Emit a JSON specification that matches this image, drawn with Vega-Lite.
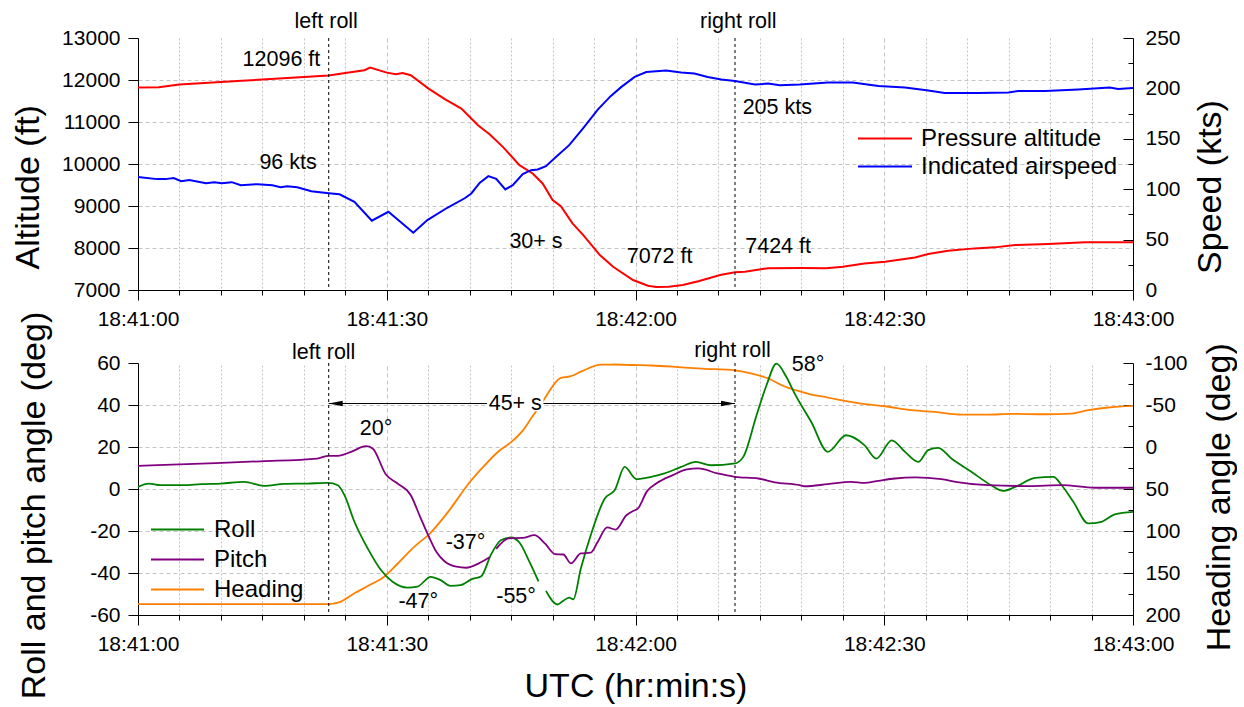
{
  "$schema": "https://vega.github.io/schema/vega-lite/v6.json",
  "background": "white",
  "padding": {"left": 11, "top": 11, "right": 0, "bottom": 0},
  "config": {
    "font": "Liberation Sans",
    "view": {"stroke": null},
    "axis": {
      "domainColor": "black", "domainWidth": 1, "tickColor": "black", "tickWidth": 1,
      "labelColor": "black", "labelFontSize": 21, "labelFlush": false, "labelOverlap": false, "labelBound": false,
      "titleColor": "black", "titleFontSize": 34, "titleFontWeight": "normal",
      "gridColor": "#c4c4c4", "gridWidth": 1
    },
    "legend": {"labelColor": "black", "labelFontSize": 24, "padding": 0}
  },
  "datasets": {
    "alt": [
      {"s":0,"v":11820},{"s":2.5,"v":11825},{"s":5,"v":11890},{"s":7.5,"v":11920},{"s":10,"v":11955},{"s":12.5,"v":11985},{"s":15,"v":12010},{"s":17.5,"v":12040},{"s":20,"v":12073},{"s":23,"v":12105},{"s":25,"v":12168},{"s":27.3,"v":12232},{"s":28,"v":12296},{"s":30,"v":12175},{"s":31.1,"v":12137},{"s":31.9,"v":12168},{"s":32.9,"v":12113},{"s":35,"v":11800},{"s":37,"v":11545},{"s":39,"v":11321},{"s":41,"v":10924},{"s":42.4,"v":10710},{"s":44,"v":10408},{"s":46,"v":9973},{"s":47.6,"v":9775},{"s":48.8,"v":9537},{"s":50,"v":9140},{"s":51,"v":8998},{"s":52.4,"v":8586},{"s":53.7,"v":8308},{"s":55.7,"v":7832},{"s":57.3,"v":7554},{"s":59.7,"v":7238},{"s":61.5,"v":7100},{"s":62.5,"v":7072},{"s":64,"v":7075},{"s":65.7,"v":7119},{"s":67.7,"v":7214},{"s":70.2,"v":7357},{"s":72,"v":7424},{"s":73.2,"v":7435},{"s":76,"v":7520},{"s":80,"v":7525},{"s":83,"v":7520},{"s":85,"v":7554},{"s":87.6,"v":7633},{"s":90.1,"v":7673},{"s":93.7,"v":7776},{"s":95.3,"v":7855},{"s":97.7,"v":7935},{"s":100.9,"v":7991},{"s":103.3,"v":8015},{"s":105.8,"v":8070},{"s":109.8,"v":8094},{"s":114.2,"v":8134},{"s":120,"v":8134}
    ],
    "ias": [
      {"s":0,"v":112},{"s":2.3,"v":110},{"s":3.3,"v":110},{"s":4.3,"v":111},{"s":5.2,"v":108},{"s":6.2,"v":109},{"s":8.2,"v":106},{"s":9.2,"v":107},{"s":10.1,"v":106},{"s":11.3,"v":107},{"s":12.4,"v":104},{"s":14.4,"v":105},{"s":16.2,"v":104},{"s":17.2,"v":102},{"s":18,"v":103},{"s":19.2,"v":102},{"s":20.9,"v":98},{"s":23,"v":96},{"s":24.3,"v":95},{"s":26.1,"v":87.5},{"s":28.2,"v":68.7},{"s":30.2,"v":77.6},{"s":33.2,"v":56.8},{"s":34.9,"v":69.4},{"s":37.3,"v":81.6},{"s":39.4,"v":91},{"s":40.2,"v":95.8},{"s":41.2,"v":106.3},{"s":42.25,"v":113},{"s":43.2,"v":110.3},{"s":44.3,"v":99.8},{"s":45.2,"v":104},{"s":46.4,"v":115},{"s":47.4,"v":118.9},{"s":48.2,"v":119.6},{"s":49.2,"v":122.9},{"s":50.4,"v":132},{"s":52,"v":143.7},{"s":53.65,"v":160.2},{"s":55.45,"v":179},{"s":57,"v":192.3},{"s":58.3,"v":201.5},{"s":59.9,"v":211.4},{"s":61.3,"v":216.3},{"s":63.7,"v":217.7},{"s":65.5,"v":215.7},{"s":67.1,"v":214.7},{"s":68.7,"v":211.4},{"s":70.35,"v":208.8},{"s":72,"v":207.4},{"s":74.4,"v":203.8},{"s":76,"v":204.8},{"s":77.4,"v":203.2},{"s":79.8,"v":203.8},{"s":83.2,"v":205.8},{"s":86.2,"v":205.8},{"s":89.3,"v":202.5},{"s":92.5,"v":200.9},{"s":95.1,"v":198.2},{"s":97.3,"v":195.5},{"s":101.3,"v":195.5},{"s":105,"v":195.9},{"s":106.2,"v":197.5},{"s":109.4,"v":197.5},{"s":113.4,"v":198.9},{"s":117.2,"v":200.9},{"s":118.2,"v":199.5},{"s":120,"v":200.5}
    ],
    "roll": [
      {"s":0,"v":1,"seg":1},{"s":1.3,"v":2.6,"seg":1},{"s":2.7,"v":1.8,"seg":1},{"s":5.5,"v":1.8,"seg":1},{"s":7.6,"v":2.3,"seg":1},{"s":10,"v":2.6,"seg":1},{"s":12.8,"v":3.4,"seg":1},{"s":15.2,"v":1.5,"seg":1},{"s":17.6,"v":2.4,"seg":1},{"s":20.4,"v":2.6,"seg":1},{"s":22.9,"v":2.9,"seg":1},{"s":24.1,"v":1.8,"seg":1},{"s":24.9,"v":-2.9,"seg":1},{"s":26.1,"v":-15.6,"seg":1},{"s":27.7,"v":-28.3,"seg":1},{"s":29.3,"v":-38.6,"seg":1},{"s":30.7,"v":-44.2,"seg":1},{"s":32.5,"v":-47,"seg":1},{"s":33.7,"v":-46.5,"seg":1},{"s":35.3,"v":-41.8,"seg":1},{"s":36.5,"v":-43.4,"seg":1},{"s":37.7,"v":-46.1,"seg":1},{"s":38.9,"v":-45.8,"seg":1},{"s":40.2,"v":-43,"seg":1},{"s":41.4,"v":-41.5,"seg":1},{"s":42.6,"v":-31,"seg":1},{"s":43.8,"v":-24.3,"seg":1},{"s":45,"v":-23.1,"seg":1},{"s":46,"v":-25.5,"seg":1},{"s":47.2,"v":-34.6,"seg":1},{"s":48.3,"v":-44,"seg":1},
      {"s":49.2,"v":-48.5,"seg":2},{"s":50.6,"v":-55,"seg":2},{"s":51.2,"v":-53.5,"seg":2},{"s":52,"v":-51.7,"seg":2},{"s":52.5,"v":-52.5,"seg":2},{"s":53.4,"v":-38,"seg":2},{"s":54.6,"v":-22,"seg":2},{"s":56.3,"v":-4.5,"seg":2},{"s":57.5,"v":-0.5,"seg":2},{"s":58.7,"v":10.5,"seg":2},{"s":60.1,"v":4.7,"seg":2},{"s":61.9,"v":5.8,"seg":2},{"s":63.5,"v":7.4,"seg":2},{"s":65.5,"v":10.5,"seg":2},{"s":67.3,"v":12.9,"seg":2},{"s":69.1,"v":11.3,"seg":2},{"s":72,"v":12.2,"seg":2},{"s":73,"v":15.3,"seg":2},{"s":74.6,"v":35.1,"seg":2},{"s":75.8,"v":49.4,"seg":2},{"s":77,"v":59.7,"seg":2},{"s":78.2,"v":53.3,"seg":2},{"s":79.2,"v":45.4,"seg":2},{"s":81.2,"v":31.9,"seg":2},{"s":83.2,"v":17.7,"seg":2},{"s":85.4,"v":25.6,"seg":2},{"s":87.6,"v":20.9,"seg":2},{"s":89.05,"v":14.5,"seg":2},{"s":90.9,"v":23.2,"seg":2},{"s":92.5,"v":17.7,"seg":2},{"s":94.1,"v":12.9,"seg":2},{"s":95.3,"v":18.5,"seg":2},{"s":96.5,"v":19.6,"seg":2},{"s":98.1,"v":14.5,"seg":2},{"s":100.5,"v":8.2,"seg":2},{"s":102.9,"v":1.8,"seg":2},{"s":104.35,"v":-0.9,"seg":2},{"s":105.8,"v":1,"seg":2},{"s":108.2,"v":5.3,"seg":2},{"s":110.4,"v":5.8,"seg":2},{"s":111.4,"v":1.8,"seg":2},{"s":112.8,"v":-6.1,"seg":2},{"s":114.6,"v":-16.4,"seg":2},{"s":116.2,"v":-15.6,"seg":2},{"s":117.8,"v":-12.1,"seg":2},{"s":120,"v":-10.9,"seg":2}
    ],
    "pitch": [
      {"s":0,"v":11,"seg":1},{"s":7.6,"v":12.1,"seg":1},{"s":14.8,"v":13.2,"seg":1},{"s":21.6,"v":14.5,"seg":1},{"s":23,"v":15.8,"seg":1},{"s":24.1,"v":15.8,"seg":1},{"s":25.7,"v":17.7,"seg":1},{"s":27.5,"v":20.4,"seg":1},{"s":28.3,"v":19.3,"seg":1},{"s":29.9,"v":6.9,"seg":1},{"s":31.3,"v":2.6,"seg":1},{"s":32.9,"v":-3,"seg":1},{"s":34,"v":-13,"seg":1},{"s":35,"v":-22,"seg":1},{"s":36,"v":-30,"seg":1},{"s":37,"v":-34.5,"seg":1},{"s":38.4,"v":-37,"seg":1},{"s":39.6,"v":-37.5,"seg":1},{"s":41.1,"v":-35.4,"seg":1},{"s":42.4,"v":-32.5,"seg":1},
      {"s":43.2,"v":-28.5,"seg":2},{"s":44.7,"v":-23.5,"seg":2},{"s":46.4,"v":-23.3,"seg":2},{"s":47.8,"v":-22,"seg":2},{"s":49.1,"v":-26,"seg":2},{"s":50.3,"v":-31,"seg":2},{"s":51.3,"v":-31.2,"seg":2},{"s":52.2,"v":-35.4,"seg":2},{"s":53.4,"v":-30.7,"seg":2},{"s":54.6,"v":-30.3,"seg":2},{"s":55.4,"v":-25.5,"seg":2},{"s":56.6,"v":-18.3,"seg":2},{"s":57.6,"v":-19.3,"seg":2},{"s":58.9,"v":-12.5,"seg":2},{"s":59.7,"v":-10.5,"seg":2},{"s":60.3,"v":-9.2,"seg":2},{"s":61.4,"v":-1,"seg":2},{"s":62.5,"v":2.6,"seg":2},{"s":64.5,"v":6.6,"seg":2},{"s":66.2,"v":9.3,"seg":2},{"s":67.6,"v":9.8,"seg":2},{"s":69.9,"v":7.4,"seg":2},{"s":72,"v":5.8,"seg":2},{"s":74.8,"v":5,"seg":2},{"s":76.8,"v":3.2,"seg":2},{"s":79.8,"v":1.8,"seg":2},{"s":80.4,"v":1.3,"seg":2},{"s":83.2,"v":2.3,"seg":2},{"s":86,"v":3.4,"seg":2},{"s":87.6,"v":2.9,"seg":2},{"s":89.3,"v":3.9,"seg":2},{"s":91.3,"v":5,"seg":2},{"s":93.7,"v":5.5,"seg":2},{"s":96.9,"v":4.7,"seg":2},{"s":98.6,"v":3.4,"seg":2},{"s":102.5,"v":1.8,"seg":2},{"s":107.4,"v":1.4,"seg":2},{"s":111.4,"v":1.8,"seg":2},{"s":115.4,"v":0.6,"seg":2},{"s":120,"v":0.6,"seg":2}
    ],
    "heading": [
      {"s":0,"v":187},{"s":23,"v":187},{"s":24.1,"v":185.4},{"s":26.1,"v":174.2},{"s":28.1,"v":163.5},{"s":29.7,"v":154.4},{"s":31.3,"v":139},{"s":33.4,"v":118},{"s":35.2,"v":103},{"s":37.4,"v":77.2},{"s":40,"v":42},{"s":41.6,"v":24},{"s":43.5,"v":5},{"s":45,"v":-5.8},{"s":46.4,"v":-19.5},{"s":47.6,"v":-36.8},{"s":48.8,"v":-54},{"s":51,"v":-82.4},{"s":52.1,"v":-84},{"s":53.5,"v":-90},{"s":55.8,"v":-98.1},{"s":57.5,"v":-98.2},{"s":59.6,"v":-97.6},{"s":61.9,"v":-97},{"s":65.1,"v":-95.2},{"s":68,"v":-93.3},{"s":72,"v":-91.3},{"s":74,"v":-87.4},{"s":75.9,"v":-82},{"s":78,"v":-72},{"s":79.5,"v":-67},{"s":81.2,"v":-62.4},{"s":83.2,"v":-58.9},{"s":85.2,"v":-55},{"s":87.2,"v":-51.7},{"s":90.1,"v":-48.5},{"s":93.3,"v":-43.8},{"s":96.1,"v":-41.7},{"s":99.3,"v":-38.6},{"s":102.5,"v":-38.6},{"s":105.3,"v":-39.4},{"s":109.4,"v":-39},{"s":112.6,"v":-39.8},{"s":114.6,"v":-43.8},{"s":117,"v":-47},{"s":120,"v":-48.9}
    ],
    "rolls": [{"s":23},{"s":72}],
    "topText": [
      {"s":22.7,"v":13380,"label":"left roll"},{"s":72.4,"v":13380,"label":"right roll"},
      {"s":17.3,"v":12486,"label":"12096 ft"},{"s":18.1,"v":10013,"label":"96 kts"},
      {"s":48,"v":8150,"label":"30+ s"},{"s":62.9,"v":7790,"label":"7072 ft"},
      {"s":77.1,"v":11345,"label":"205 kts"},{"s":77.2,"v":8030,"label":"7424 ft"}
    ],
    "botText": [
      {"s":22.4,"v":64.6,"label":"left roll"},{"s":71.7,"v":65.8,"label":"right roll"},
      {"s":28.7,"v":28.5,"label":"20°"},{"s":33.8,"v":-53.7,"label":"-47°"},
      {"s":39.5,"v":-25.9,"label":"-37°"},{"s":45.6,"v":-51.3,"label":"-55°"},
      {"s":80.8,"v":58.9,"label":"58°"},{"s":45.5,"v":40.7,"label":"45+ s"}
    ],
    "arrow": [{"s":23,"s2":72,"v":40.7}],
    "gapbox": [{"s":42.1,"s2":48.9,"v":37,"v2":44.5}],
    "arrowL": [{"s":23,"v":40.7}],
    "arrowR": [{"s":72,"v":40.7}]
  },
  "spacing": 73,
  "bounds": "flush",
  "resolve": {"scale": {"color": "independent", "x": "independent"}, "axis": {"x": "independent"}, "legend": {"color": "independent"}},
  "vconcat": [
    {
      "width": 995, "height": 252,
      "encoding": {
        "x": {"field": "s", "type": "quantitative", "scale": {"domain": [0,120], "nice": false, "zero": false},
          "axis": {"values": [0,5,10,15,20,25,30,35,40,45,50,55,60,65,70,75,80,85,90,95,100,105,110,115,120],
            "labelExpr": "datum.value % 30 === 0 ? '18:' + (41 + floor(datum.value / 60)) + ':' + (datum.value % 60 === 0 ? '00' : '30') : ''",
            "tickSize": {"condition": {"test": "datum.value % 30 === 0", "value": 10}, "value": 5},
            "labelPadding": 8, "grid": true,
            "gridDash": {"condition": {"test": "datum.value % 30 === 0", "value": [4,3]}, "value": [2,2]},
            "title": null}}
      },
      "layer": [
        {
          "layer": [
            {"data": {"name": "alt"}, "mark": {"type": "line", "strokeWidth": 2},
              "encoding": {
                "y": {"field": "v", "type": "quantitative", "scale": {"domain": [7000,13000], "nice": false, "zero": false},
                  "axis": {"orient": "left", "values": [7000,7500,8000,8500,9000,9500,10000,10500,11000,11500,12000,12500,13000],
                    "labelExpr": "datum.value % 1000 === 0 ? '' + datum.value : ''",
                    "tickSize": {"condition": {"test": "datum.value % 1000 === 0", "value": 10}, "value": 5},
                    "labelPadding": 8, "grid": true,
                    "gridDash": {"condition": {"test": "datum.value % 1000 === 0", "value": [4,3]}, "value": [2,2]},
                    "gridOpacity": {"condition": {"test": "datum.value >= 13000", "value": 0}, "value": 1},
                    "title": "Altitude (ft)", "titleX": -109.7, "titleY": 148.8, "titleBaseline": "middle", "titleAlign": "center", "titleAngle": 270}},
                "color": {"datum": "Pressure altitude", "type": "nominal",
                  "scale": {"domain": ["Pressure altitude", "Indicated airspeed"], "range": ["#ff0000", "#0000ff"]},
                  "legend": {"orient": "none", "legendX": 719, "legendY": 88.6, "title": null, "symbolType": "stroke", "symbolSize": 2916, "symbolStrokeWidth": 2, "clipHeight": 24, "rowPadding": 4, "labelOffset": 8, "labelLimit": 400, "labelFontSize": 24}}
              }},
            {"data": {"name": "rolls"}, "mark": {"type": "rule", "color": "black", "strokeWidth": 1, "strokeDash": [3,3]}, "encoding": {}},
            {"data": {"name": "topText"}, "mark": {"type": "text", "fontSize": 21.5, "align": "center", "baseline": "middle", "color": "black"},
              "encoding": {
                "y": {"field": "v", "type": "quantitative", "title": "Altitude (ft)", "scale": {"domain": [7000,13000], "nice": false, "zero": false}},
                "text": {"field": "label"}
              }}
          ]
        },
        {
          "layer": [
            {"data": {"name": "ias"}, "mark": {"type": "line", "strokeWidth": 2},
              "encoding": {
                "y": {"field": "v", "type": "quantitative", "scale": {"domain": [0,250], "nice": false, "zero": false},
                  "axis": {"orient": "right", "values": [0,25,50,75,100,125,150,175,200,225,250],
                    "labelExpr": "datum.value % 50 === 0 ? '' + datum.value : ''",
                    "tickSize": {"condition": {"test": "datum.value % 50 === 0", "value": -10}, "value": -5},
                    "labelPadding": 22, "grid": false,
                    "title": "Speed (kts)", "titleX": 77.7, "titleY": 148.5, "titleBaseline": "middle", "titleAlign": "center", "titleAngle": 270}},
                "color": {"datum": "Indicated airspeed", "type": "nominal"}
              }}
          ]
        }
      ],
      "resolve": {"scale": {"y": "independent"}, "axis": {"y": "independent"}}
    },
    {
      "width": 995, "height": 252,
      "encoding": {
        "x": {"field": "s", "type": "quantitative", "scale": {"domain": [0,120], "nice": false, "zero": false},
          "axis": {"values": [0,5,10,15,20,25,30,35,40,45,50,55,60,65,70,75,80,85,90,95,100,105,110,115,120],
            "labelExpr": "datum.value % 30 === 0 ? '18:' + (41 + floor(datum.value / 60)) + ':' + (datum.value % 60 === 0 ? '00' : '30') : ''",
            "tickSize": {"condition": {"test": "datum.value % 30 === 0", "value": 10}, "value": 5},
            "labelPadding": 8, "grid": true,
            "gridDash": {"condition": {"test": "datum.value % 30 === 0", "value": [4,3]}, "value": [2,2]},
            "title": "UTC (hr:min:s)", "titleY": 81.7, "titleBaseline": "alphabetic"}}
      },
      "layer": [
        {
          "layer": [
            {"data": {"name": "heading"}, "mark": {"type": "line", "strokeWidth": 1.8, "interpolate": "monotone"},
              "encoding": {
                "y": {"field": "v", "type": "quantitative", "scale": {"domain": [-100,200], "nice": false, "zero": false, "reverse": true},
                  "axis": {"orient": "right", "values": [-100,-75,-50,-25,0,25,50,75,100,125,150,175,200],
                    "labelExpr": "datum.value % 50 === 0 ? '' + datum.value : ''",
                    "tickSize": {"condition": {"test": "datum.value % 50 === 0", "value": -10}, "value": -5},
                    "labelPadding": 22, "grid": false,
                    "title": "Heading angle (deg)", "titleX": 86.7, "titleY": 133.8, "titleBaseline": "middle", "titleAlign": "center", "titleAngle": 270}},
                "color": {"datum": "Heading", "type": "nominal",
                  "scale": {"domain": ["Roll", "Pitch", "Heading"], "range": ["#008000", "#800080", "#ff8000"]},
                  "legend": {"orient": "none", "legendX": 12, "legendY": 154.6, "title": null, "symbolType": "stroke", "symbolSize": 2809, "symbolStrokeWidth": 2, "clipHeight": 24, "rowPadding": 6, "labelOffset": 9, "labelLimit": 400, "labelFontSize": 24}}
              }}
          ]
        },
        {
          "layer": [
            {"data": {"name": "roll"}, "mark": {"type": "line", "strokeWidth": 1.8, "interpolate": "monotone"},
              "encoding": {
                "y": {"field": "v", "type": "quantitative", "scale": {"domain": [-60,60], "nice": false, "zero": false},
                  "axis": {"orient": "left", "values": [-60,-50,-40,-30,-20,-10,0,10,20,30,40,50,60],
                    "labelExpr": "datum.value % 20 === 0 ? '' + datum.value : ''",
                    "tickSize": {"condition": {"test": "datum.value % 20 === 0", "value": 10}, "value": 5},
                    "labelPadding": 8, "grid": true,
                    "gridDash": {"condition": {"test": "datum.value % 20 === 0", "value": [4,3]}, "value": [2,2]},
                    "gridOpacity": {"condition": {"test": "datum.value >= 60", "value": 0}, "value": 1},
                    "title": "Roll and pitch angle (deg)", "titleX": -103.7, "titleY": 142, "titleBaseline": "middle", "titleAlign": "center", "titleAngle": 270}},
                "detail": {"field": "seg", "type": "nominal"},
                "color": {"datum": "Roll", "type": "nominal"}
              }},
            {"data": {"name": "pitch"}, "mark": {"type": "line", "strokeWidth": 1.8, "interpolate": "monotone"},
              "encoding": {
                "y": {"field": "v", "type": "quantitative", "title": "Roll and pitch angle (deg)", "scale": {"domain": [-60,60], "nice": false, "zero": false}},
                "detail": {"field": "seg", "type": "nominal"},
                "color": {"datum": "Pitch", "type": "nominal"}
              }},
            {"data": {"name": "rolls"}, "mark": {"type": "rule", "color": "black", "strokeWidth": 1, "strokeDash": [3,3]}, "encoding": {}},
            {"data": {"name": "arrow"}, "mark": {"type": "rule", "color": "black", "strokeWidth": 1},
              "encoding": {
                "x2": {"field": "s2"},
                "y": {"field": "v", "type": "quantitative", "title": "Roll and pitch angle (deg)", "scale": {"domain": [-60,60], "nice": false, "zero": false}}
              }},
            {"data": {"name": "gapbox"}, "mark": {"type": "rect", "color": "white", "opacity": 1},
              "encoding": {
                "x2": {"field": "s2"},
                "y": {"field": "v", "type": "quantitative", "title": "Roll and pitch angle (deg)", "scale": {"domain": [-60,60], "nice": false, "zero": false}},
                "y2": {"field": "v2"}
              }},
            {"data": {"name": "arrowL"}, "mark": {"type": "point", "shape": "M0,0L2,-0.4L2,0.4Z", "size": 196, "filled": true, "color": "black", "opacity": 1, "strokeWidth": 0},
              "encoding": {
                "y": {"field": "v", "type": "quantitative", "title": "Roll and pitch angle (deg)", "scale": {"domain": [-60,60], "nice": false, "zero": false}}
              }},
            {"data": {"name": "arrowR"}, "mark": {"type": "point", "shape": "M0,0L-2,-0.4L-2,0.4Z", "size": 196, "filled": true, "color": "black", "opacity": 1, "strokeWidth": 0},
              "encoding": {
                "y": {"field": "v", "type": "quantitative", "title": "Roll and pitch angle (deg)", "scale": {"domain": [-60,60], "nice": false, "zero": false}}
              }},
            {"data": {"name": "botText"}, "mark": {"type": "text", "fontSize": 21.5, "align": "center", "baseline": "middle", "color": "black"},
              "encoding": {
                "y": {"field": "v", "type": "quantitative", "title": "Roll and pitch angle (deg)", "scale": {"domain": [-60,60], "nice": false, "zero": false}},
                "text": {"field": "label"}
              }}
          ]
        }
      ],
      "resolve": {"scale": {"y": "independent"}, "axis": {"y": "independent"}}
    }
  ]
}
